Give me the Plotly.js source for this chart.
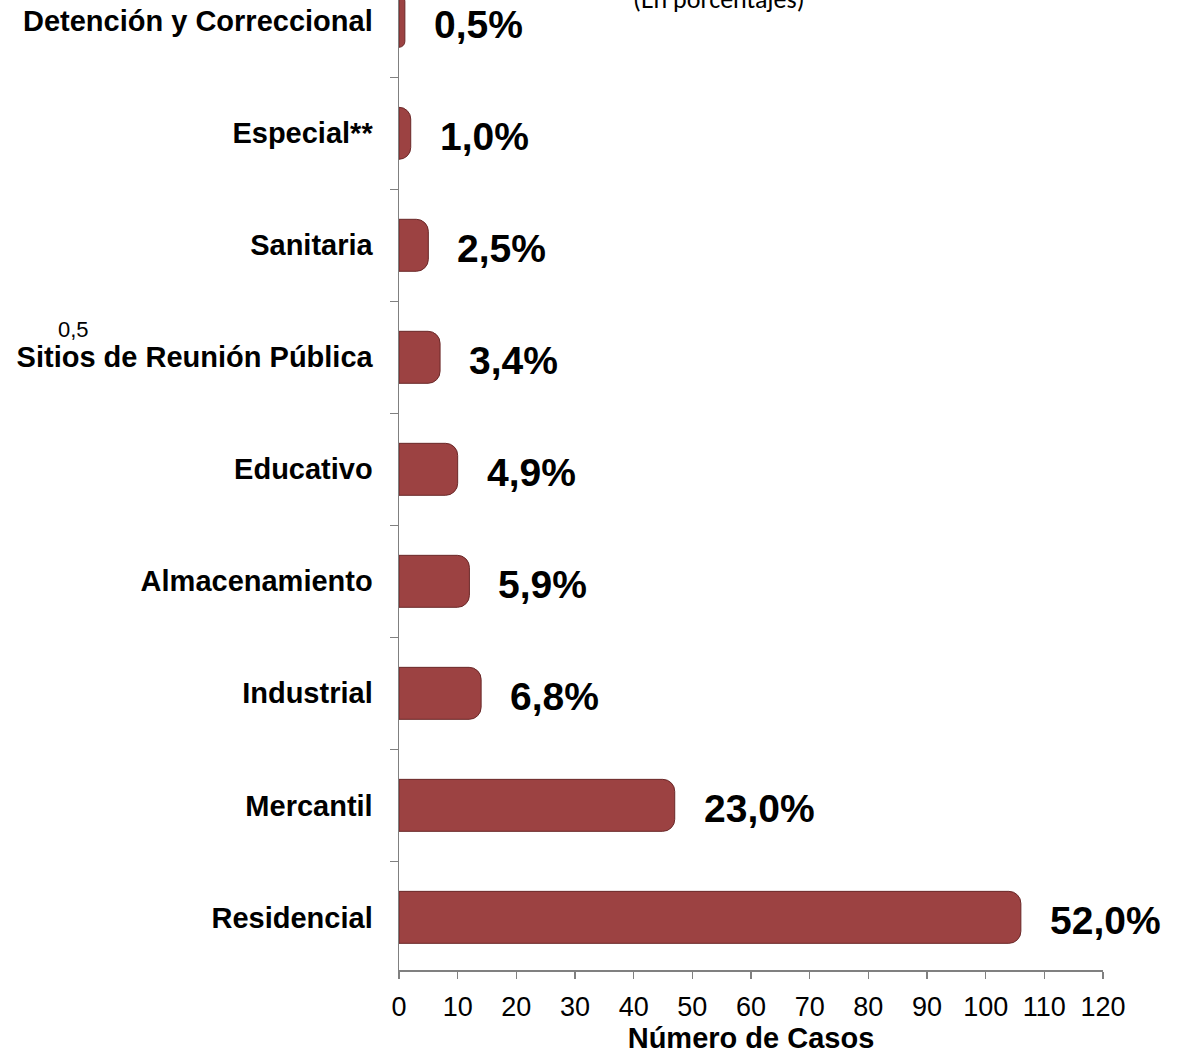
<!DOCTYPE html>
<html>
<head>
<meta charset="utf-8">
<script src="https://cdn.plot.ly/plotly-3.0.1.min.js"></script>
<style>html,body{margin:0;padding:0;background:#fff;}#chart{width:1182px;height:1054px;}</style>
</head>
<body>
<div id="chart"></div>
<script>
const categories = ['Residencial', 'Mercantil', 'Industrial', 'Almacenamiento', 'Educativo', 'Sitios de Reunión Pública', 'Sanitaria', 'Especial**', 'Detención y Correccional'];
const cases = [106, 47, 14, 12, 10, 7, 5, 2, 1];
const percentLabels = ['52,0%', '23,0%', '6,8%', '5,9%', '4,9%', '3,4%', '2,5%', '1,0%', '0,5%'];
const xTicks = [0, 10, 20, 30, 40, 50, 60, 70, 80, 90, 100, 110, 120];

const FONT = '"Liberation Sans", Arial, Helvetica, sans-serif';

const trace = {
  type: 'bar',
  orientation: 'h',
  x: cases,
  y: categories,
  marker: {color: '#9c4242', line: {color: '#6a2828', width: 1}, cornerradius: 12},
  hoverinfo: 'x+y'
};

const annotations = categories.map((c, i) => ({
  x: cases[i], y: c, xref: 'x', yref: 'y',
  text: percentLabels[i], showarrow: false,
  xanchor: 'left', yanchor: 'middle', xshift: 27, yshift: -3,
  font: {family: FONT, size: 39, color: '#000', weight: 'bold'}
}));
annotations.push({
  xref: 'paper', yref: 'paper', x: -0.4617, y: 0.66,
  text: '0,5', showarrow: false, xanchor: 'center', yanchor: 'middle',
  font: {family: FONT, size: 22, color: '#000'}
});
annotations.push({
  xref: 'paper', yref: 'paper', x: 0.4545, y: 1,
  text: '(En porcentajes)', showarrow: false, xanchor: 'center', yanchor: 'bottom',
  yshift: -17,
  font: {family: 'Carlito, "Open Sans", sans-serif', size: 26, color: '#000'}
});

const layout = {
  width: 1182, height: 1054,
  margin: {l: 399, r: 79, t: 0, b: 84},
  paper_bgcolor: '#fff', plot_bgcolor: '#fff',
  showlegend: false,
  bargap: 0.536,
  font: {family: FONT},
  xaxis: {
    range: [0, 120], tickvals: xTicks, ticktext: xTicks.map(String),
    showgrid: false, zeroline: false,
    showline: true, linecolor: '#808080', linewidth: 1.5,
    ticks: 'outside', ticklen: 7, tickcolor: '#808080', tickwidth: 1.5,
    ticklabelstandoff: 5,
    tickfont: {family: FONT, size: 27, color: '#000'},
    title: {text: 'Número de Casos', standoff: 6,
      font: {family: FONT, size: 29, color: '#000', weight: 'bold'}},
    automargin: false, fixedrange: true
  },
  yaxis: {
    type: 'category', range: [-0.47, 8.19],
    showgrid: false, zeroline: false,
    showline: true, linecolor: '#808080', linewidth: 1.5,
    ticks: 'outside', tickson: 'boundaries', ticklen: 8, tickcolor: '#808080', tickwidth: 1.5,
    ticklabelstandoff: 19,
    tickfont: {family: FONT, size: 29, color: '#000', weight: 'bold'},
    automargin: false, fixedrange: true
  },
  annotations: annotations
};

Plotly.newPlot('chart', [trace], layout, {displayModeBar: false, staticPlot: true});
</script>
</body>
</html>
